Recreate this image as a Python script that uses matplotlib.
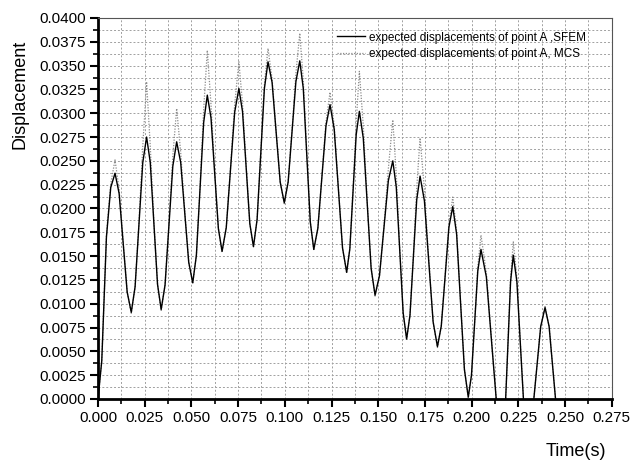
import matplotlib.pyplot as plt
from matplotlib.ticker import MultipleLocator, FormatStrFormatter

plt.rcParams['font.family'] = ['Liberation Sans', 'DejaVu Sans']

# time points (s)
t = [0.0000, 0.0020, 0.0045, 0.0068, 0.0091,
     0.0113, 0.01345, 0.0156, 0.0178,
     0.01985, 0.0219, 0.02395, 0.0260,
     0.02795, 0.0299, 0.03185, 0.0338,
     0.03588, 0.03795, 0.04003, 0.0421,
     0.04425, 0.0464, 0.04855, 0.0507,
     0.05265, 0.0546, 0.05655, 0.0585,
     0.06048, 0.06245, 0.06443, 0.0664,
     0.06865, 0.0709, 0.07315, 0.0754,
     0.07735, 0.0793, 0.08125, 0.0832,
     0.08515, 0.0871, 0.08905, 0.0910,
     0.09318, 0.09535, 0.09753, 0.0997,
     0.10178, 0.10385, 0.10593, 0.1080,
     0.10988, 0.11175, 0.11363, 0.1155,
     0.11768, 0.11985, 0.12203, 0.1242,
     0.12643, 0.12865, 0.13088, 0.1331,
     0.1348, 0.1365, 0.1382, 0.1399,
     0.1420, 0.1441, 0.1462, 0.1483,
     0.15068, 0.15305, 0.15543, 0.1578,
     0.15965, 0.1615, 0.16335, 0.1652,
     0.1670, 0.1688, 0.1706, 0.1724,
     0.17473, 0.17705, 0.17938, 0.1817,
     0.18375, 0.1858, 0.18785, 0.1899,
     0.19198, 0.19405, 0.19613, 0.1982,
     0.1999, 0.2016, 0.2033, 0.2050,
     0.20788, 0.21075, 0.21363, 0.2165,
     0.21795, 0.2194, 0.22085, 0.2223,
     0.22423, 0.22615, 0.22808, 0.2300,
     0.23233, 0.23465, 0.23698, 0.2393,
     0.24148, 0.24365, 0.24583, 0.2480]

sfem = [0.0000, 0.0040, 0.0170, 0.0222, 0.0237,
        0.02157, 0.0164, 0.01123, 0.0091,
        0.01179, 0.0183, 0.02481, 0.0275,
        0.02486, 0.01845, 0.01204, 0.0094,
        0.01197, 0.0182, 0.02443, 0.0270,
        0.02484, 0.0196, 0.01436, 0.0122,
        0.01508, 0.02205, 0.02902, 0.0319,
        0.02951, 0.0237, 0.01789, 0.0155,
        0.0180, 0.02405, 0.0301, 0.0326,
        0.03018, 0.0243, 0.01842, 0.0160,
        0.01883, 0.0257, 0.03257, 0.0354,
        0.03324, 0.0280, 0.02276, 0.0206,
        0.02278, 0.02805, 0.03332, 0.0355,
        0.03261, 0.0256, 0.01859, 0.0157,
        0.01792, 0.0233, 0.02868, 0.0309,
        0.02833, 0.0221, 0.01587, 0.0133,
        0.01577, 0.02175, 0.02773, 0.0302,
        0.02738, 0.02055, 0.01372, 0.0109,
        0.01296, 0.01795, 0.02294, 0.0250,
        0.02227, 0.01565, 0.00903, 0.0063,
        0.0088, 0.01485, 0.0209, 0.0234,
        0.02079, 0.01445, 0.00811, 0.0055,
        0.00765, 0.01285, 0.01805, 0.0202,
        0.01728, 0.0102, 0.00312, 0.0002,
        0.00246, 0.00795, 0.01344, 0.0157,
        0.01282, 0.00585, -0.00112, -0.0040,
        -0.00121, 0.00555, 0.01231, 0.0151,
        0.01231, 0.00555, -0.00121, -0.0040,
        -0.00201, 0.0028, 0.00761, 0.0096,
        0.00761, 0.0028, -0.00201, -0.0040]

mcs = [0.0000, 0.0040, 0.0172, 0.0226, 0.0251,
       0.0220, 0.0164, 0.01123, 0.0090,
       0.01179, 0.0185, 0.0265, 0.0333,
       0.0266, 0.0186, 0.01204, 0.0093,
       0.01197, 0.0184, 0.0255, 0.0305,
       0.0259, 0.0198, 0.01436, 0.0121,
       0.01508, 0.0222, 0.0304, 0.0366,
       0.0309, 0.0239, 0.01789, 0.0154,
       0.0180, 0.0242, 0.0309, 0.0354,
       0.0310, 0.0245, 0.01842, 0.0159,
       0.01883, 0.0258, 0.0330, 0.0368,
       0.0336, 0.0281, 0.02276, 0.0205,
       0.02278, 0.0282, 0.0342, 0.0384,
       0.0335, 0.0258, 0.01859, 0.0156,
       0.01792, 0.0234, 0.0291, 0.0322,
       0.0287, 0.0222, 0.01587, 0.0132,
       0.01577, 0.0219, 0.0290, 0.0344,
       0.0287, 0.0207, 0.01372, 0.0108,
       0.01296, 0.0181, 0.0242, 0.0293,
       0.0236, 0.0158, 0.00903, 0.0062,
       0.0088, 0.0150, 0.0221, 0.0274,
       0.0220, 0.0146, 0.00811, 0.0054,
       0.00765, 0.0129, 0.0184, 0.0212,
       0.0176, 0.0103, 0.00312, 0.0001,
       0.00246, 0.0080, 0.0139, 0.0172,
       0.0133, 0.0059, -0.00112, -0.0040,
       -0.00121, 0.0056, 0.0127, 0.0165,
       0.0127, 0.0056, -0.00121, -0.0040,
       -0.00201, 0.0028, 0.00761, 0.0097,
       0.00761, 0.0028, -0.00201, -0.0040]

fig = plt.figure(figsize=(6.3, 4.61), dpi=100)
ax = fig.add_axes([0.1556, 0.1345, 0.8154, 0.8265])

ax.plot(t, sfem, color="black", lw=1.0, solid_joinstyle="round",
        label="expected displacements of point A ,SFEM", zorder=3)
ax.plot(t, mcs, color="#8c8c8c", lw=0.9, linestyle=(0, (1, 1.2)),
        label="expected displacements of point A, MCS", zorder=2)

ax.set_xlim(0, 0.275)
ax.set_ylim(0, 0.04)

ax.xaxis.set_major_locator(MultipleLocator(0.025))
ax.xaxis.set_minor_locator(MultipleLocator(0.0125))
ax.yaxis.set_major_locator(MultipleLocator(0.0025))
ax.yaxis.set_minor_locator(MultipleLocator(0.00125))
ax.xaxis.set_major_formatter(FormatStrFormatter("%.3f"))
ax.yaxis.set_major_formatter(FormatStrFormatter("%.4f"))

ax.tick_params(which="major", direction="out", length=6, width=1.5, labelsize=11, pad=3)
ax.tick_params(which="minor", direction="out", length=3.5, width=1.2)
ax.tick_params(top=False, right=False, which="both")

ax.grid(which="both", color="#a0a0a0", linestyle=(0, (2, 2)), linewidth=0.7)

ax.spines["left"].set_linewidth(2)
ax.spines["bottom"].set_linewidth(2)
ax.spines["top"].set_linewidth(0.8)
ax.spines["right"].set_linewidth(0.8)
ax.spines["top"].set_color("#555555")
ax.spines["right"].set_color("#555555")

ax.set_ylabel("Displacement", fontsize=13)
ax.yaxis.set_label_coords(-0.135, 0.80)
ax.set_xlabel("Time(s)", fontsize=13, ha="right")
ax.xaxis.set_label_coords(0.99, -0.115)

ax.legend(loc="upper right", bbox_to_anchor=(0.963, 0.983), frameon=False,
          fontsize=8.5, handlelength=2.4, handletextpad=0.3, labelspacing=0.4,
          borderaxespad=0.2)

plt.savefig("out.png", dpi=100)
